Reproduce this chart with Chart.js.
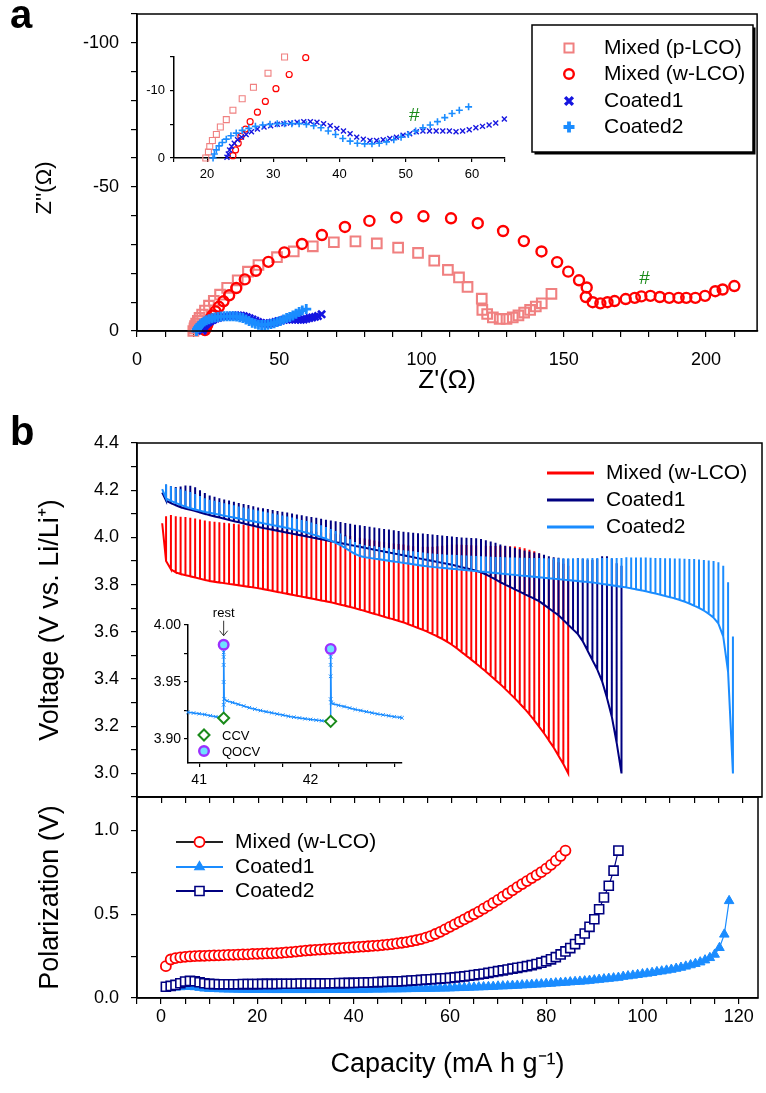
<!DOCTYPE html>
<html>
<head>
<meta charset="utf-8">
<script src="https://cdn.jsdelivr.net/npm/chart.js@4.4.0/dist/chart.umd.min.js"></script>
<style>
  body { margin: 0; background: #fff; }
  #fig { position: relative; width: 766px; height: 1093px; overflow: hidden; background: #fff; }
  canvas { position: absolute; }
  .tag { position: absolute; font: bold 40px 'Liberation Sans', Arial, sans-serif; line-height: 40px; color: #000; }
</style>
</head>
<body>
<div id="fig">
  <canvas id="cA" width="766" height="425" style="left:0;top:0"></canvas>
  <canvas id="cAin" width="395" height="150" style="left:120px;top:40px"></canvas>
  <canvas id="cB1" width="766" height="385" style="left:0;top:420px"></canvas>
  <canvas id="cB2" width="766" height="313" style="left:0;top:780px"></canvas>
  <canvas id="cBin" width="275" height="190" style="left:140px;top:605px"></canvas>
  <div class="tag" style="left:10px;top:-6px">a</div>
  <div class="tag" style="left:10px;top:411px">b</div>
</div>
<script>
// ---- panel a: Nyquist data (Z' in ohm, Z'' in ohm, negative up) ----
const pRe = [19.8, 20.2, 20.4, 20.8, 21.4, 22.0, 22.9, 23.9, 25.3, 27.0, 29.2, 31.7, 35.4, 39.0, 42.7, 49.2, 55.1, 61.8, 69.2, 76.8, 84.3, 91.8, 98.8, 104.5, 109.3, 113.2, 116.2, 121.2, 121.4, 123.1, 125.1, 127.5, 129.9, 132.1, 134.1, 136.1, 138.2, 140.2, 142.3, 145.7];
const pIm = [0, -0.9, -1.7, -2.6, -3.5, -4.6, -5.7, -7.1, -8.8, -10.5, -12.6, -15.0, -17.6, -20.6, -22.9, -25.6, -27.6, -29.4, -30.8, -31.1, -30.4, -28.9, -27.1, -24.4, -21.2, -18.6, -15.3, -11.2, -7.3, -5.9, -4.7, -4.2, -4.2, -4.7, -5.4, -6.4, -7.3, -8.5, -9.6, -12.9];
const wRe = [23.9, 24.3, 24.7, 25.1, 25.8, 26.5, 27.6, 28.8, 30.4, 32.4, 34.9, 37.9, 41.8, 46.2, 51.8, 58.0, 65.0, 73.1, 81.7, 91.2, 100.7, 110.4, 119.8, 128.7, 136.0, 142.2, 147.7, 151.6, 155.4, 158.1, 157.8, 160.2, 162.9, 165.4, 167.9, 171.8, 175.0, 177.3, 180.5, 183.8, 187.1, 190.4, 193.1, 196.3, 199.7, 203.3, 205.9, 210.0];
const wIm = [-0.35, -1.2, -2.2, -3.2, -4.3, -5.4, -6.8, -8.4, -10.3, -12.4, -14.9, -17.9, -20.9, -24.0, -27.3, -30.2, -33.3, -36.1, -38.2, -39.4, -39.8, -39.1, -37.4, -34.7, -31.2, -27.6, -23.9, -20.6, -17.6, -15.1, -11.8, -10.0, -9.6, -10.0, -10.4, -11.1, -11.5, -12.0, -12.2, -11.8, -11.5, -11.5, -11.5, -11.5, -12.2, -13.8, -14.4, -15.6];
const c1Re = [23.0, 23.2, 23.4, 23.7, 24.1, 24.6, 25.2, 25.9, 26.7, 27.6, 28.6, 29.6, 30.6, 31.6, 32.6, 33.6, 34.6, 35.6, 36.6, 37.6, 38.6, 39.6, 40.6, 41.6, 42.6, 43.6, 44.6, 45.6, 46.6, 47.6, 48.6, 49.6, 50.6, 51.6, 52.6, 53.6, 54.6, 55.6, 56.6, 57.6, 58.6, 59.6, 60.6, 61.6, 62.6, 63.6, 64.9];
const c1Im = [-0.1, -0.6, -1.2, -1.7, -2.2, -2.7, -3.1, -3.5, -3.9, -4.3, -4.6, -4.8, -5.0, -5.1, -5.2, -5.3, -5.4, -5.4, -5.3, -5.1, -4.8, -4.4, -4.0, -3.6, -3.1, -2.8, -2.6, -2.6, -2.7, -2.9, -3.1, -3.4, -3.6, -3.9, -4.0, -4.0, -4.0, -4.0, -4.0, -3.9, -4.0, -4.2, -4.5, -4.7, -4.9, -5.2, -5.8];
const c2Re = [20.9, 21.1, 21.4, 21.8, 22.3, 22.9, 23.6, 24.4, 25.3, 26.3, 27.3, 28.4, 29.5, 30.6, 31.7, 32.8, 33.9, 35.0, 36.1, 37.2, 38.3, 39.4, 40.5, 41.6, 42.7, 43.8, 44.9, 46.0, 47.1, 48.2, 49.3, 50.4, 51.5, 52.6, 53.7, 54.8, 55.9, 57.0, 58.1, 59.5];
const c2Im = [0, -0.6, -1.2, -1.8, -2.3, -2.8, -3.3, -3.7, -4.1, -4.4, -4.7, -4.9, -5.0, -5.1, -5.1, -5.1, -5.1, -5.0, -4.8, -4.5, -4.0, -3.5, -2.9, -2.5, -2.2, -2.1, -2.1, -2.2, -2.4, -2.7, -3.1, -3.5, -4.0, -4.5, -4.9, -5.4, -6.0, -6.6, -7.1, -7.6];
const hashMain = [178.4, -18];
const hashInset = [51.3, -6.3];

// ---- panel b: GITT pulses (capacity mA h/g, closed-circuit V, polarization V) ----
const capRed = [1,2,3,4,5,6,7,8,9,10,11,12,13,14,15,16,17,18,19,20,21,22,23,24,25,26,27,28,29,30,31,32,33,34,35,36,37,38,39,40,41,42,43,44,45,46,47,48,49,50,51,52,53,54,55,56,57,58,59,60,61,62,63,64,65,66,67,68,69,70,71,72,73,74,75,76,77,78,79,80,81,82,83,84];
const ccvRed = [3.900,3.865,3.852,3.845,3.840,3.835,3.830,3.825,3.820,3.815,
  3.812,3.809,3.806,3.803,3.800,3.797,3.794,3.791,3.788,3.785,
  3.781,3.777,3.773,3.769,3.765,3.761,3.757,3.753,3.749,3.745,
  3.741,3.737,3.733,3.729,3.725,3.720,3.715,3.710,3.705,3.700,
  3.694,3.688,3.682,3.676,3.670,3.664,3.658,3.652,3.646,3.640,
  3.632,3.624,3.616,3.608,3.600,3.590,3.580,3.570,3.558,3.545,
  3.530,3.514,3.498,3.482,3.466,3.449,3.432,3.414,3.396,3.378,
  3.358,3.338,3.318,3.296,3.274,3.250,3.225,3.198,3.170,3.140,
  3.110,3.075,3.040,3.000];
const polRed = [0.190,0.230,0.238,0.243,0.246,0.248,0.250,0.251,0.252,0.253,
  0.254,0.255,0.256,0.257,0.258,0.259,0.260,0.261,0.263,0.264,
  0.265,0.266,0.267,0.268,0.270,0.272,0.274,0.277,0.280,0.283,
  0.285,0.287,0.289,0.291,0.293,0.295,0.297,0.299,0.301,0.303,
  0.305,0.307,0.309,0.311,0.313,0.316,0.319,0.322,0.326,0.330,
  0.334,0.339,0.345,0.352,0.360,0.370,0.382,0.395,0.410,0.425,
  0.440,0.455,0.470,0.485,0.500,0.516,0.533,0.550,0.568,0.586,
  0.605,0.624,0.643,0.662,0.680,0.698,0.716,0.734,0.752,0.772,
  0.795,0.820,0.848,0.880];
const capNavy = [1,2,3,4,5,6,7,8,9,10,11,12,13,14,15,16,17,18,19,20,21,22,23,24,25,26,27,28,29,30,31,32,33,34,35,36,37,38,39,40,41,42,43,44,45,46,47,48,49,50,51,52,53,54,55,56,57,58,59,60,61,62,63,64,65,66,67,68,69,70,71,72,73,74,75,76,77,78,79,80,81,82,83,84,85,86,87,88,89,90,91,92,93,94,95];
const ccvNavy = [4.156,4.145,4.136,4.128,4.122,4.117,4.112,4.106,4.100,4.094,
  4.089,4.084,4.079,4.074,4.069,4.064,4.059,4.054,4.049,4.044,
  4.040,4.036,4.032,4.028,4.024,4.020,4.016,4.012,4.008,4.004,
  4.000,3.996,3.992,3.988,3.984,3.980,3.976,3.972,3.968,3.964,
  3.960,3.956,3.952,3.948,3.944,3.940,3.936,3.932,3.928,3.924,
  3.920,3.916,3.912,3.908,3.904,3.900,3.896,3.892,3.888,3.884,
  3.879,3.874,3.869,3.864,3.859,3.852,3.843,3.833,3.822,3.810,
  3.800,3.790,3.780,3.770,3.760,3.750,3.740,3.730,3.715,3.700,
  3.685,3.670,3.650,3.630,3.610,3.590,3.560,3.520,3.480,3.440,
  3.390,3.320,3.240,3.130,3.000];
const polNavy = [0.067,0.072,0.078,0.088,0.098,0.102,0.100,0.094,0.088,0.084,
  0.083,0.082,0.082,0.082,0.082,0.082,0.083,0.083,0.083,0.083,
  0.084,0.084,0.084,0.084,0.085,0.085,0.085,0.085,0.086,0.086,
  0.086,0.087,0.087,0.087,0.088,0.088,0.089,0.089,0.090,0.090,
  0.091,0.092,0.093,0.094,0.095,0.096,0.097,0.098,0.099,0.100,
  0.102,0.104,0.106,0.108,0.110,0.112,0.114,0.116,0.118,0.120,
  0.123,0.126,0.129,0.133,0.137,0.141,0.145,0.150,0.155,0.160,
  0.165,0.170,0.175,0.180,0.185,0.190,0.196,0.203,0.211,0.220,
  0.231,0.244,0.260,0.278,0.298,0.322,0.350,0.385,0.425,0.470,
  0.530,0.600,0.670,0.760,0.880];
const capLight = [1,2,3,4,5,6,7,8,9,10,11,12,13,14,15,16,17,18,19,20,21,22,23,24,25,26,27,28,29,30,31,32,33,34,35,36,37,38,39,40,41,42,43,44,45,46,47,48,49,50,51,52,53,54,55,56,57,58,59,60,61,62,63,64,65,66,67,68,69,70,71,72,73,74,75,76,77,78,79,80,81,82,83,84,85,86,87,88,89,90,91,92,93,94,95,96,97,98,99,100,101,102,103,104,105,106,107,108,109,110,111,112,113,114,115,116,117,118];
const ccvLight = [4.165,4.155,4.146,4.138,4.130,4.124,4.118,4.113,4.108,4.104,
  4.100,4.096,4.092,4.088,4.084,4.080,4.076,4.072,4.068,4.064,
  4.060,4.056,4.052,4.048,4.044,4.040,4.035,4.030,4.025,4.020,
  4.014,4.008,4.001,3.994,3.986,3.977,3.967,3.955,3.942,3.930,
  3.921,3.916,3.913,3.910,3.907,3.904,3.901,3.898,3.895,3.892,
  3.889,3.886,3.883,3.880,3.877,3.875,3.873,3.871,3.869,3.867,
  3.865,3.863,3.861,3.859,3.857,3.855,3.853,3.851,3.849,3.847,
  3.845,3.843,3.841,3.839,3.837,3.835,3.833,3.831,3.829,3.827,
  3.825,3.823,3.821,3.819,3.817,3.815,3.813,3.811,3.809,3.806,
  3.803,3.800,3.797,3.794,3.791,3.788,3.784,3.780,3.776,3.772,
  3.767,3.762,3.757,3.752,3.747,3.741,3.735,3.728,3.720,3.711,
  3.701,3.690,3.676,3.660,3.635,3.580,3.430,3.000];
const polLight = [0.060,0.062,0.064,0.066,0.068,0.068,0.066,0.062,0.058,0.056,
  0.055,0.054,0.053,0.052,0.052,0.051,0.051,0.050,0.050,0.050,
  0.050,0.050,0.049,0.049,0.049,0.049,0.049,0.049,0.049,0.049,
  0.049,0.049,0.050,0.050,0.050,0.050,0.050,0.050,0.050,0.050,
  0.051,0.051,0.051,0.052,0.052,0.052,0.053,0.053,0.053,0.054,
  0.054,0.055,0.055,0.056,0.056,0.057,0.057,0.058,0.058,0.059,
  0.060,0.061,0.062,0.063,0.064,0.065,0.066,0.067,0.068,0.070,
  0.071,0.072,0.074,0.075,0.077,0.078,0.080,0.082,0.083,0.085,
  0.087,0.089,0.091,0.093,0.095,0.097,0.099,0.101,0.104,0.107,
  0.110,0.113,0.116,0.119,0.122,0.128,0.131,0.135,0.139,0.143,
  0.147,0.151,0.156,0.160,0.165,0.170,0.176,0.182,0.189,0.197,
  0.205,0.214,0.226,0.240,0.260,0.300,0.380,0.580];
const startRed = [0.2, 4.06];
const startNavy = [0.2, 4.19];
const startLight = [0.2, 4.205];

// inset of panel b: zoom on Coated2 around 41-43 mA h/g
const zoomCap = [40.90, 40.95, 41.00, 41.05, 41.10, 41.15, 41.20, 41.22, 41.22, 41.22, 41.22, 41.22, 41.22, 41.22, 41.22,
  41.225, 41.25, 41.30, 41.35, 41.40, 41.45, 41.50, 41.55, 41.60, 41.65, 41.70, 41.75, 41.80, 41.85, 41.90, 41.95, 42.00, 42.05, 42.10, 42.15, 42.18,
  42.18, 42.18, 42.18, 42.18, 42.18, 42.18, 42.185, 42.20, 42.25, 42.30, 42.35, 42.40, 42.45, 42.50, 42.55, 42.60, 42.65, 42.70, 42.75, 42.80, 42.82];
const zoomV = [3.9234, 3.9228, 3.9222, 3.9215, 3.9205, 3.9196, 3.9188, 3.9184, 3.930, 3.950, 3.965, 3.972, 3.976, 3.980, 3.9827,
  3.9350, 3.9335, 3.9320, 3.9305, 3.9290, 3.9275, 3.9262, 3.9250, 3.9240, 3.9230, 3.9220, 3.9210, 3.9200, 3.9192, 3.9185, 3.9178, 3.9172, 3.9166, 3.9161, 3.9157, 3.9155,
  3.935, 3.955, 3.965, 3.972, 3.976, 3.979, 3.9320, 3.9310, 3.9296, 3.9285, 3.9272, 3.9260, 3.9250, 3.9240, 3.9230, 3.9220, 3.9212, 3.9204, 3.9196, 3.9190, 3.9186];
const ccvCap = [41.22, 42.18];
const ccvV = [3.9184, 3.9155];
const qocvCap = [41.22, 42.18];
const qocvV = [3.9827, 3.979];

// ---- helpers ----
const FONT = "'Liberation Sans', Arial, Helvetica, sans-serif";
Chart.defaults.font.family = FONT;
Chart.defaults.color = '#000';
Chart.defaults.animation = false;
Chart.defaults.events = [];
Chart.defaults.plugins.legend.display = false;
Chart.defaults.plugins.tooltip.enabled = false;

const RED = '#ff0000', PINK = '#f08080', BLUE = '#1515e0', LIGHT = '#1a8cff', NAVY = '#000080', GREEN = '#1a8a1a';

function pts(xs, ys) { return xs.map((v, i) => ({ x: v, y: ys[i] })); }

function pulses(start, cap, ccv, pol) {
  const out = [{ x: start[0], y: start[1] }];
  cap.forEach((c, i) => {
    out.push({ x: c, y: ccv[i] }, { x: c, y: ccv[i] + pol[i] }, { x: c, y: ccv[i] });
  });
  return out;
}

function axis(o) {
  return {
    type: 'linear', position: o.pos, min: o.min, max: o.max, reverse: !!o.reverse,
    afterFit(s) {
      if (s.isHorizontal()) s.height = o.size; else s.width = o.size;
      s.paddingTop = s.paddingBottom = s.paddingLeft = s.paddingRight = 0;
    },
    border: { display: true, color: '#000', width: 1.5 },
    grid: { display: true, drawOnChartArea: false, drawTicks: true, tickLength: o.tl || 6, color: '#000', lineWidth: 1.2 },
    ticks: { stepSize: o.step, autoSkip: false, maxRotation: 0, minRotation: 0, includeBounds: false,
      padding: o.pad, font: { size: o.fs || 18 }, color: '#000', callback: o.label },
    title: o.title ? { display: true, text: o.title, color: '#000', font: { size: o.tfs || 27 }, padding: o.tpad } : { display: false }
  };
}

function mark(ctx, style, x, y, r, stroke, fill, lw) {
  ctx.save();
  ctx.strokeStyle = stroke;
  ctx.fillStyle = fill || 'rgba(0,0,0,0)';
  ctx.lineWidth = lw;
  Chart.helpers.drawPoint(ctx, { pointStyle: style, radius: r, borderWidth: lw, rotation: 0 }, x, y);
  ctx.restore();
}

function text(ctx, s, x, y, size, align, color, rot) {
  ctx.save();
  ctx.font = size + 'px ' + FONT;
  ctx.fillStyle = color || '#000';
  ctx.textAlign = align || 'left';
  ctx.textBaseline = 'middle';
  ctx.translate(x, y);
  if (rot) ctx.rotate(rot);
  ctx.fillText(s, 0, 0);
  ctx.restore();
}

const frame = {
  id: 'frame',
  afterDraw(c) {
    const a = c.chartArea, ctx = c.ctx;
    ctx.save();
    ctx.strokeStyle = '#000';
    ctx.lineWidth = 1.5;
    ctx.strokeRect(a.left, a.top, a.right - a.left, a.bottom - a.top);
    ctx.restore();
  }
};

function hashPlugin(pos, size) {
  return {
    id: 'hash',
    afterDatasetsDraw(c) {
      const x = c.scales.x.getPixelForValue(pos[0]);
      const y = c.scales.y.getPixelForValue(pos[1]);
      text(c.ctx, '#', x, y, size, 'center', GREEN);
    }
  };
}

function eisSets(small) {
  const clip = small ? { left: 6, top: 6, right: 6, bottom: 6 } : 10;
  return [
    { label: 'Coated2', data: pts(c2Re, c2Im), pointStyle: 'cross', pointRadius: small ? 3.5 : 5,
      pointBorderWidth: small ? 1.6 : 2.8, pointBorderColor: LIGHT, pointBackgroundColor: LIGHT, clip: clip, order: 1 },
    { label: 'Coated1', data: pts(c1Re, c1Im), pointStyle: 'crossRot', pointRadius: small ? 3.5 : 5,
      pointBorderWidth: small ? 1.4 : 2.6, pointBorderColor: BLUE, pointBackgroundColor: BLUE, clip: clip, order: 2 },
    { label: 'Mixed (w-LCO)', data: pts(wRe, wIm), pointStyle: 'circle', pointRadius: small ? 3 : 5,
      pointBorderWidth: small ? 1.2 : 2.4, pointBorderColor: RED, pointBackgroundColor: 'rgba(0,0,0,0)', clip: clip, order: 3 },
    { label: 'Mixed (p-LCO)', data: pts(pRe, pIm), pointStyle: 'rect', pointRadius: small ? 4.2 : 6.8,
      pointBorderWidth: small ? 1.1 : 2.1, pointBorderColor: PINK, pointBackgroundColor: 'rgba(0,0,0,0)', clip: clip, order: 4 }
  ];
}

const legendA = {
  id: 'legendA',
  afterDraw(c) {
    const ctx = c.ctx;
    ctx.save();
    ctx.fillStyle = '#000';
    ctx.fillRect(534.5, 27.5, 221, 127);
    ctx.fillStyle = '#fff';
    ctx.fillRect(532, 25, 221, 127);
    ctx.strokeStyle = '#000';
    ctx.lineWidth = 1.5;
    ctx.strokeRect(532, 25, 221, 127);
    ctx.restore();
    const rows = [
      ['Mixed (p-LCO)', 'rect', 6.4, PINK, 2, 48],
      ['Mixed (w-LCO)', 'circle', 4.8, RED, 2.4, 74],
      ['Coated1', 'crossRot', 5.5, BLUE, 3.4, 101],
      ['Coated2', 'cross', 5.5, LIGHT, 3.8, 127]
    ];
    rows.forEach(r => {
      mark(ctx, r[1], 569, r[5], r[2], r[3], null, r[4]);
      text(ctx, r[0], 604, r[5], 21);
    });
    // y-axis title, sitting a little below the axis middle as in the figure
    text(ctx, "Z''(\u03A9)", 45, 188, 22, 'center', '#000', -Math.PI / 2);
  }
};

// ---- panel a main ----
new Chart(document.getElementById('cA'), {
  type: 'scatter',
  data: { datasets: eisSets(false) },
  options: {
    responsive: false, devicePixelRatio: 1,
    layout: { padding: { left: 0, top: 14, right: 4, bottom: 0 } },
    scales: {
      x: axis({ pos: 'bottom', min: 0, max: 218, step: 10, size: 94, pad: 12,
        label: v => v % 50 === 0 ? v : '', title: "Z'(\u03A9)", tfs: 26, tpad: { top: 0, bottom: 29 } }),
      y: axis({ pos: 'left', min: -110, max: 0, reverse: true, step: 10, size: 137, pad: 12,
        label: v => v % 50 === 0 ? v : '' })
    }
  },
  plugins: [frame, legendA, hashPlugin(hashMain, 19)]
});

// ---- panel a inset ----
new Chart(document.getElementById('cAin'), {
  type: 'scatter',
  data: { datasets: eisSets(true) },
  options: {
    responsive: false, devicePixelRatio: 1,
    layout: { padding: { left: 0, top: 17, right: 10, bottom: 0 } },
    scales: {
      x: axis({ pos: 'bottom', min: 15, max: 65, step: 5, size: 32, tl: 4, pad: 5, fs: 13,
        label: v => v % 10 === 0 ? v : '' }),
      y: axis({ pos: 'left', min: -15, max: 0, reverse: true, step: 5, size: 54, tl: 4, pad: 5, fs: 13,
        label: v => v % 10 === 0 ? v : '' })
    }
  },
  plugins: [hashPlugin(hashInset, 19)]
});

// ---- panel b voltage ----
const legendB1 = {
  id: 'legendB1',
  afterDraw(c) {
    const ctx = c.ctx;
    [['Mixed (w-LCO)', RED, 53], ['Coated1', NAVY, 80], ['Coated2', LIGHT, 107]].forEach(r => {
      ctx.save();
      ctx.strokeStyle = r[1];
      ctx.lineWidth = 3;
      ctx.beginPath();
      ctx.moveTo(547, r[2]);
      ctx.lineTo(594, r[2]);
      ctx.stroke();
      ctx.restore();
      text(ctx, r[0], 606, r[2], 21);
    });
  }
};

new Chart(document.getElementById('cB1'), {
  type: 'scatter',
  data: {
    datasets: [
      { label: 'Coated2', data: pulses(startLight, capLight, ccvLight, polLight), showLine: true,
        borderColor: LIGHT, borderWidth: 2, pointRadius: 0, clip: 4, order: 1 },
      { label: 'Coated1', data: pulses(startNavy, capNavy, ccvNavy, polNavy), showLine: true,
        borderColor: NAVY, borderWidth: 2, pointRadius: 0, clip: 4, order: 2 },
      { label: 'Mixed (w-LCO)', data: pulses(startRed, capRed, ccvRed, polRed), showLine: true,
        borderColor: RED, borderWidth: 2, pointRadius: 0, clip: 4, order: 3 }
    ]
  },
  options: {
    responsive: false, devicePixelRatio: 1,
    layout: { padding: { left: 0, top: 23, right: 4, bottom: 0 } },
    scales: {
      x: axis({ pos: 'bottom', min: -5, max: 124, step: 5, size: 8, pad: 0, label: () => '' }),
      y: axis({ pos: 'left', min: 2.9, max: 4.4, step: 0.1, size: 137, pad: 12,
        label: v => (Math.round(v * 10) % 2 === 0 ? v.toFixed(1) : ''),
        title: 'Voltage (V vs. Li/Li\u207A)', tpad: { top: 34, bottom: 0 } })
    }
  },
  plugins: [frame, legendB1]
});

// ---- panel b polarization ----
const legendB2 = {
  id: 'legendB2',
  afterDraw(c) {
    const ctx = c.ctx;
    const rows = [
      ['Mixed (w-LCO)', '#222', 'circle', 5, RED, '#fff', 1.8, 62],
      ['Coated1', LIGHT, 'triangle', 5.5, LIGHT, LIGHT, 1.2, 87],
      ['Coated2', NAVY, 'rect', 6.4, NAVY, '#fff', 1.6, 111]
    ];
    rows.forEach(r => {
      ctx.save();
      ctx.strokeStyle = r[1];
      ctx.lineWidth = 2;
      ctx.beginPath();
      ctx.moveTo(176, r[7]);
      ctx.lineTo(223, r[7]);
      ctx.stroke();
      ctx.restore();
      mark(ctx, r[2], 199.5, r[7], r[3], r[4], r[5], r[6]);
      text(ctx, r[0], 235, r[7], 21);
    });
  }
};

new Chart(document.getElementById('cB2'), {
  type: 'scatter',
  data: {
    datasets: [
      { label: 'Mixed (w-LCO)', data: pts(capRed, polRed), showLine: true, borderColor: '#333', borderWidth: 1.2,
        pointStyle: 'circle', pointRadius: 5, pointBorderWidth: 1.8, pointBorderColor: RED, pointBackgroundColor: '#fff', clip: 8, order: 1 },
      { label: 'Coated2', data: pts(capNavy, polNavy), showLine: true, borderColor: NAVY, borderWidth: 1.2,
        pointStyle: 'rect', pointRadius: 6.4, pointBorderWidth: 1.6, pointBorderColor: NAVY, pointBackgroundColor: '#fff', clip: 8, order: 2 },
      { label: 'Coated1', data: pts(capLight, polLight), showLine: true, borderColor: LIGHT, borderWidth: 1.2,
        pointStyle: 'triangle', pointRadius: 5.5, pointBorderWidth: 1, pointBorderColor: LIGHT, pointBackgroundColor: LIGHT, clip: 8, order: 3 }
    ]
  },
  options: {
    responsive: false, devicePixelRatio: 1,
    layout: { padding: { left: 0, top: 17, right: 4, bottom: 0 } },
    scales: {
      x: axis({ pos: 'bottom', min: -5, max: 124, step: 5, size: 95, pad: 2,
        label: v => v % 20 === 0 ? v : '', title: 'Capacity (mA h g\u207B\u00B9)', tpad: { top: 0, bottom: 12 } }),
      y: axis({ pos: 'left', min: 0, max: 1.2, step: 0.25, size: 137, pad: 12,
        label: v => (Math.round(v * 4) % 2 === 0 ? v.toFixed(1) : ''),
        title: 'Polarization (V)', tpad: { top: 34, bottom: 0 } })
    }
  },
  plugins: [frame, legendB2]
});

// ---- panel b inset ----
const insetB = {
  id: 'insetB',
  afterDraw(c) {
    const ctx = c.ctx;
    const qx = c.scales.x.getPixelForValue(qocvCap[0]);
    const qy = c.scales.y.getPixelForValue(qocvV[0]);
    text(ctx, 'rest', qx, qy - 31, 13, 'center');
    ctx.save();
    ctx.strokeStyle = '#333';
    ctx.lineWidth = 1;
    ctx.beginPath();
    ctx.moveTo(qx, qy - 24);
    ctx.lineTo(qx, qy - 9);
    ctx.moveTo(qx - 4, qy - 14);
    ctx.lineTo(qx, qy - 9);
    ctx.lineTo(qx + 4, qy - 14);
    ctx.stroke();
    ctx.restore();
    mark(ctx, 'rectRot', 64, 130, 5.5, GREEN, '#fff', 2);
    text(ctx, 'CCV', 82, 131, 13);
    mark(ctx, 'circle', 64, 146, 4.8, '#9b30ff', '#6fe0ff', 2.4);
    text(ctx, 'QOCV', 82, 147, 13);
  }
};

new Chart(document.getElementById('cBin'), {
  type: 'scatter',
  data: {
    datasets: [
      { label: 'QOCV', data: pts(qocvCap, qocvV), pointStyle: 'circle', pointRadius: 4.8, pointBorderWidth: 2.4,
        pointBorderColor: '#9b30ff', pointBackgroundColor: '#6fe0ff', clip: 8, order: 1 },
      { label: 'CCV', data: pts(ccvCap, ccvV), pointStyle: 'rectRot', pointRadius: 5.5, pointBorderWidth: 2,
        pointBorderColor: GREEN, pointBackgroundColor: '#fff', clip: 8, order: 2 },
      { label: 'Coated2', data: pts(zoomCap, zoomV), showLine: true, borderColor: LIGHT, borderWidth: 1.5,
        pointStyle: 'crossRot', pointRadius: 2.5, pointBorderWidth: 1, pointBorderColor: LIGHT, clip: 4, order: 3 }
    ]
  },
  options: {
    responsive: false, devicePixelRatio: 1,
    layout: { padding: { left: 0, top: 20, right: 13, bottom: 0 } },
    scales: {
      x: axis({ pos: 'bottom', min: 40.9, max: 42.82, step: 0.25, size: 32, tl: 4, pad: 5, fs: 14,
        label: v => (Math.abs(v - Math.round(v)) < 1e-6 ? Math.round(v) : '') }),
      y: axis({ pos: 'left', min: 3.879, max: 4.0, step: 0.025, size: 48, tl: 4, pad: 3, fs: 14,
        label: v => (Math.round(v * 40) % 2 === 0 ? v.toFixed(2) : '') })
    }
  },
  plugins: [insetB]
});
</script>
</body>
</html>
